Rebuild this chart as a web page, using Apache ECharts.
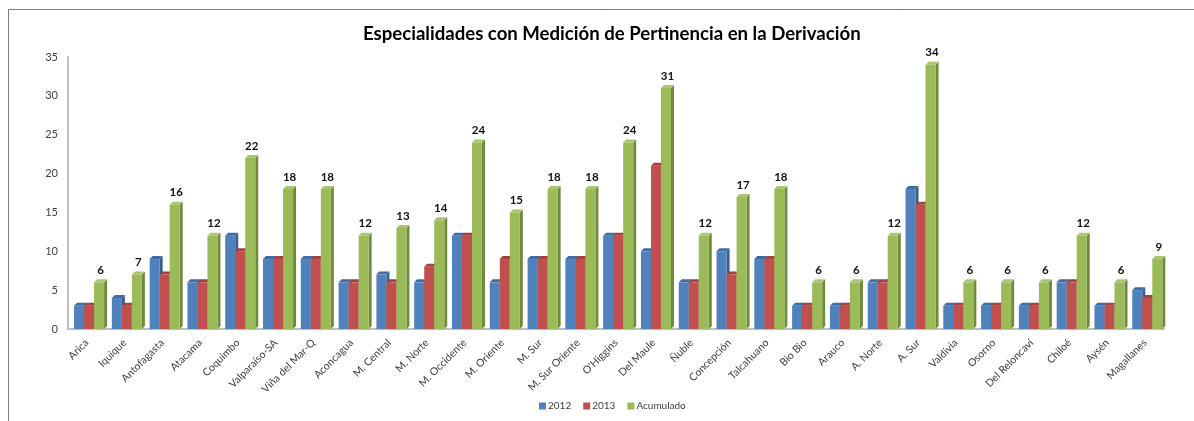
<!DOCTYPE html>
<html>
<head>
<meta charset="utf-8">
<title>Especialidades con Medición de Pertinencia</title>
<script src="https://cdn.jsdelivr.net/npm/echarts@6/dist/echarts.min.js"></script>
<style>
    html, body { margin: 0; padding: 0; background: #fff; }
    #chart { width: 1194px; height: 421px; }
</style>
</head>
<body>
<div id="chart"></div>
<script>
    var categories = ['Arica', 'Iquique', 'Antofagasta', 'Atacama', 'Coquimbo', 'Valparaíso-SA', 'Viña del Mar-Q',
        'Aconcagua', 'M. Central', 'M. Norte', 'M. Occidente', 'M. Oriente', 'M. Sur', 'M. Sur Oriente',
        "O'Higgins", 'Del Maule', 'Ñuble', 'Concepción', 'Talcahuano', 'Bio Bio', 'Arauco', 'A. Norte',
        'A. Sur', 'Valdivia', 'Osorno', 'Del Reloncaví', 'Chiloé', 'Aysén', 'Magallanes'];
    var valores2012 = [3, 4, 9, 6, 12, 9, 9, 6, 7, 6, 12, 6, 9, 9, 12, 10, 6, 10, 9, 3, 3, 6, 18, 3, 3, 3, 6, 3, 5];
    var valores2013 = [3, 3, 7, 6, 10, 9, 9, 6, 6, 8, 12, 9, 9, 9, 12, 21, 6, 7, 9, 3, 3, 6, 16, 3, 3, 3, 6, 3, 4];
    var acumulado = [6, 7, 16, 12, 22, 18, 18, 12, 13, 14, 24, 15, 18, 18, 24, 31, 12, 17, 18, 6, 6, 12, 34, 6, 6, 6, 12, 6, 9];
    var yTicks = [0, 5, 10, 15, 20, 25, 30, 35];

    var FONT = 'Lato, "Open Sans", sans-serif';

    // barra con efecto 3D: frente, lado y tapa
    function bar3d(idx, front, side, top, withLabel) {
        return function (params, api) {
            var cat = api.value(0), v = api.value(1);
            var base = api.coord([cat, 0]);
            var p = api.coord([cat, v]);
            var band = api.size([1, 0])[0];
            var w = band * 0.265;
            var d = 3;
            var x = base[0] - band / 2 + band * 0.16 + idx * w;
            var children = [
                {
                    type: 'polygon',
                    shape: { points: [[x + w, p[1]], [x + w + d, p[1] - d], [x + w + d, base[1] - d], [x + w, base[1]]] },
                    style: { fill: side }
                },
                {
                    type: 'polygon',
                    shape: { points: [[x, p[1]], [x + d, p[1] - d], [x + w + d, p[1] - d], [x + w, p[1]]] },
                    style: { fill: top }
                },
                {
                    type: 'rect',
                    shape: { x: x, y: p[1], width: w, height: base[1] - p[1] },
                    style: { fill: front }
                }
            ];
            if (withLabel) {
                children.push({
                    type: 'text',
                    style: {
                        text: String(v), x: x + (w + d) / 2, y: p[1] - 12,
                        align: 'center', verticalAlign: 'middle',
                        font: 'bold 11.5px ' + FONT, fill: '#111'
                    }
                });
            }
            return { type: 'group', children: children };
        };
    }

    function toData(arr) {
        return arr.map(function (v, i) { return [i, v]; });
    }

    var option = {
        backgroundColor: '#fff',
        animation: false,
        textStyle: { fontFamily: FONT },
        title: {
            text: 'Especialidades con Medición de Pertinencia en la Derivación',
            left: 358,
            top: 19,
            textStyle: { fontFamily: FONT, fontSize: 18.6, fontWeight: 'bold', color: '#000' }
        },
        legend: {
            bottom: 5,
            left: 534,
            icon: 'rect',
            itemWidth: 7,
            itemHeight: 7,
            itemGap: 12,
            textStyle: { fontFamily: FONT, fontSize: 10, color: '#404040', padding: [0, 0, 0, -3] },
            data: ['2012', '2013', 'Acumulado']
        },
        grid: { left: 68, right: 30, top: 57, bottom: 92 },
        xAxis: {
            type: 'category',
            data: categories,
            axisLine: { lineStyle: { color: '#bfbfbf', width: 2 } },
            axisTick: { show: false },
            axisLabel: { rotate: 45, interval: 0, fontSize: 10.5, color: '#404040', margin: 12, fontFamily: FONT }
        },
        yAxis: {
            type: 'value',
            min: yTicks[0],
            max: yTicks[yTicks.length - 1],
            interval: 5,
            axisLine: { show: true, lineStyle: { color: '#bfbfbf', width: 2 } },
            axisTick: { show: false },
            splitLine: { show: false },
            axisLabel: { fontSize: 11, color: '#404040', margin: 10, fontFamily: FONT }
        },
        graphic: [
            {
                type: 'rect',
                shape: { x: 8.5, y: 9.5, width: 1200, height: 420 },
                style: { fill: 'none', stroke: '#7f7f7f', lineWidth: 1 },
                silent: true
            }
        ],
        series: [
            {
                name: '2012', type: 'custom', itemStyle: { color: '#4f81bd' },
                renderItem: bar3d(0, '#4f81bd', '#385d8a', '#3f6ca3', false),
                encode: { x: 0, y: 1 }, data: toData(valores2012)
            },
            {
                name: '2013', type: 'custom', itemStyle: { color: '#c0504d' },
                renderItem: bar3d(1, '#c0504d', '#8c3836', '#a5403d', false),
                encode: { x: 0, y: 1 }, data: toData(valores2013)
            },
            {
                name: 'Acumulado', type: 'custom', itemStyle: { color: '#9bbb59' },
                renderItem: bar3d(2, '#9bbb59', '#6f8a3c', '#aac56e', true),
                encode: { x: 0, y: 1 }, data: toData(acumulado)
            }
        ]
    };

    var myChart = echarts.init(document.getElementById('chart'));
    myChart.setOption(option);
</script>
</body>
</html>
